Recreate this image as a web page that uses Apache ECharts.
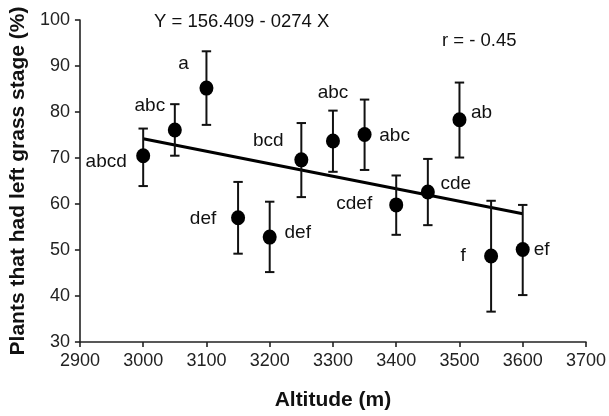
<!DOCTYPE html>
<html><head><meta charset="utf-8">
<script src="https://cdn.jsdelivr.net/npm/echarts@6/dist/echarts.min.js"></script>
<style>html,body{margin:0;padding:0;background:#fff}#c{width:609px;height:416px}</style>
</head><body><div id="c"></div>
<script>
const altitudes = [3000, 3050, 3100, 3150, 3200, 3250, 3300, 3350, 3400, 3450, 3500, 3550, 3600];
const means     = [70.5, 76.1, 85.2, 57.0, 52.8, 69.6, 73.7, 75.1, 59.8, 62.6, 78.3, 48.7, 50.1];
const errLow    = [63.9, 70.5, 77.2, 49.2, 45.2, 61.5, 67.0, 67.4, 53.3, 55.4, 70.1, 36.6, 40.2];
const errHigh   = [76.4, 81.7, 93.2, 64.8, 60.5, 77.6, 80.3, 82.7, 66.2, 69.8, 86.4, 60.7, 59.8];
const letters   = ['abcd','abc','a','def','def','bcd','abc','abc','cdef','cde','ab','f','ef'];
const fitX = [3000, 3600];
const fitY = [74.2, 57.9];
const xTicks = [2900, 3000, 3100, 3200, 3300, 3400, 3500, 3600, 3700];
const yTicks = [30, 40, 50, 60, 70, 80, 90, 100];
const equationText = 'Y = 156.409 - 0274 X';
const rText = 'r = - 0.45';

// label placement (pixel offsets, style only)
const labelOffsets = [[-37,6],[-25,-24],[-23,-24],[-35,1],[28,-4],[-33,-19],[0,-48],[30,1],[-42,-1],[28,-8],[22,-7],[-28,0],[19,0]];

const font = 'Liberation Sans, Arial, sans-serif';
const ink = '#111';
const chart = echarts.init(document.getElementById('c'), null, {renderer:'canvas'});
chart.setOption({
  animation:false,
  backgroundColor:'#fff',
  grid:{left:76, right:22, top:20, bottom:61},
  xAxis:{
    type:'value', min:xTicks[0], max:xTicks[xTicks.length-1], interval:100,
    name:'Altitude (m)', nameLocation:'middle', nameGap:48,
    nameTextStyle:{fontFamily:font, fontSize:21, fontWeight:'bold', color:ink},
    axisLine:{lineStyle:{color:'#222', width:1.6}},
    axisTick:{length:5, lineStyle:{color:'#222', width:1.6}},
    axisLabel:{fontFamily:font, fontSize:18, color:'#222', margin:10, formatter:v=>String(v)},
    splitLine:{show:false}
  },
  yAxis:{
    type:'value', min:yTicks[0], max:yTicks[yTicks.length-1], interval:10,
    name:'Plants that had left grass stage (%)', nameLocation:'middle', nameGap:42,
    nameTextStyle:{fontFamily:font, fontSize:21, fontWeight:'bold', color:ink},
    axisLine:{show:true, lineStyle:{color:'#222', width:1.6}},
    axisTick:{show:true, length:5, lineStyle:{color:'#222', width:1.6}},
    axisLabel:{fontFamily:font, fontSize:18, color:'#222', margin:10},
    splitLine:{show:false}
  },
  graphic:[
    {type:'text', left:154, top:12, style:{text:equationText, font:'18.5px '+font, fill:ink}},
    {type:'text', left:442, top:31, style:{text:rText, font:'18.5px '+font, fill:ink}}
  ],
  series:[
    {
      type:'line', data:fitX.map((x,i)=>[x, fitY[i]]), symbol:'none',
      lineStyle:{color:'#000', width:3}, z:2
    },
    {
      type:'custom', z:3,
      data: altitudes.map((x,i)=>[x, errLow[i], errHigh[i]]),
      renderItem:function(params, api){
        const lo = api.coord([api.value(0), api.value(1)]);
        const hi = api.coord([api.value(0), api.value(2)]);
        const w = 4.7;
        const st = {stroke:'#111', lineWidth:2};
        return {type:'group', children:[
          {type:'line', shape:{x1:lo[0], y1:lo[1], x2:hi[0], y2:hi[1]}, style:st},
          {type:'line', shape:{x1:lo[0]-w, y1:lo[1], x2:lo[0]+w, y2:lo[1]}, style:st},
          {type:'line', shape:{x1:hi[0]-w, y1:hi[1], x2:hi[0]+w, y2:hi[1]}, style:st}
        ]};
      }
    },
    {
      type:'scatter', z:4, symbol:'circle', symbolSize:[14,15],
      itemStyle:{color:'#000', opacity:1},
      data: altitudes.map((x,i)=>({value:[x, means[i]], label:{offset:labelOffsets[i]}})),
      label:{show:true, position:'inside', align:'center', verticalAlign:'middle',
        fontFamily:font, fontSize:19, color:ink,
        formatter:p=>letters[p.dataIndex]}
    }
  ]
});
</script></body></html>
